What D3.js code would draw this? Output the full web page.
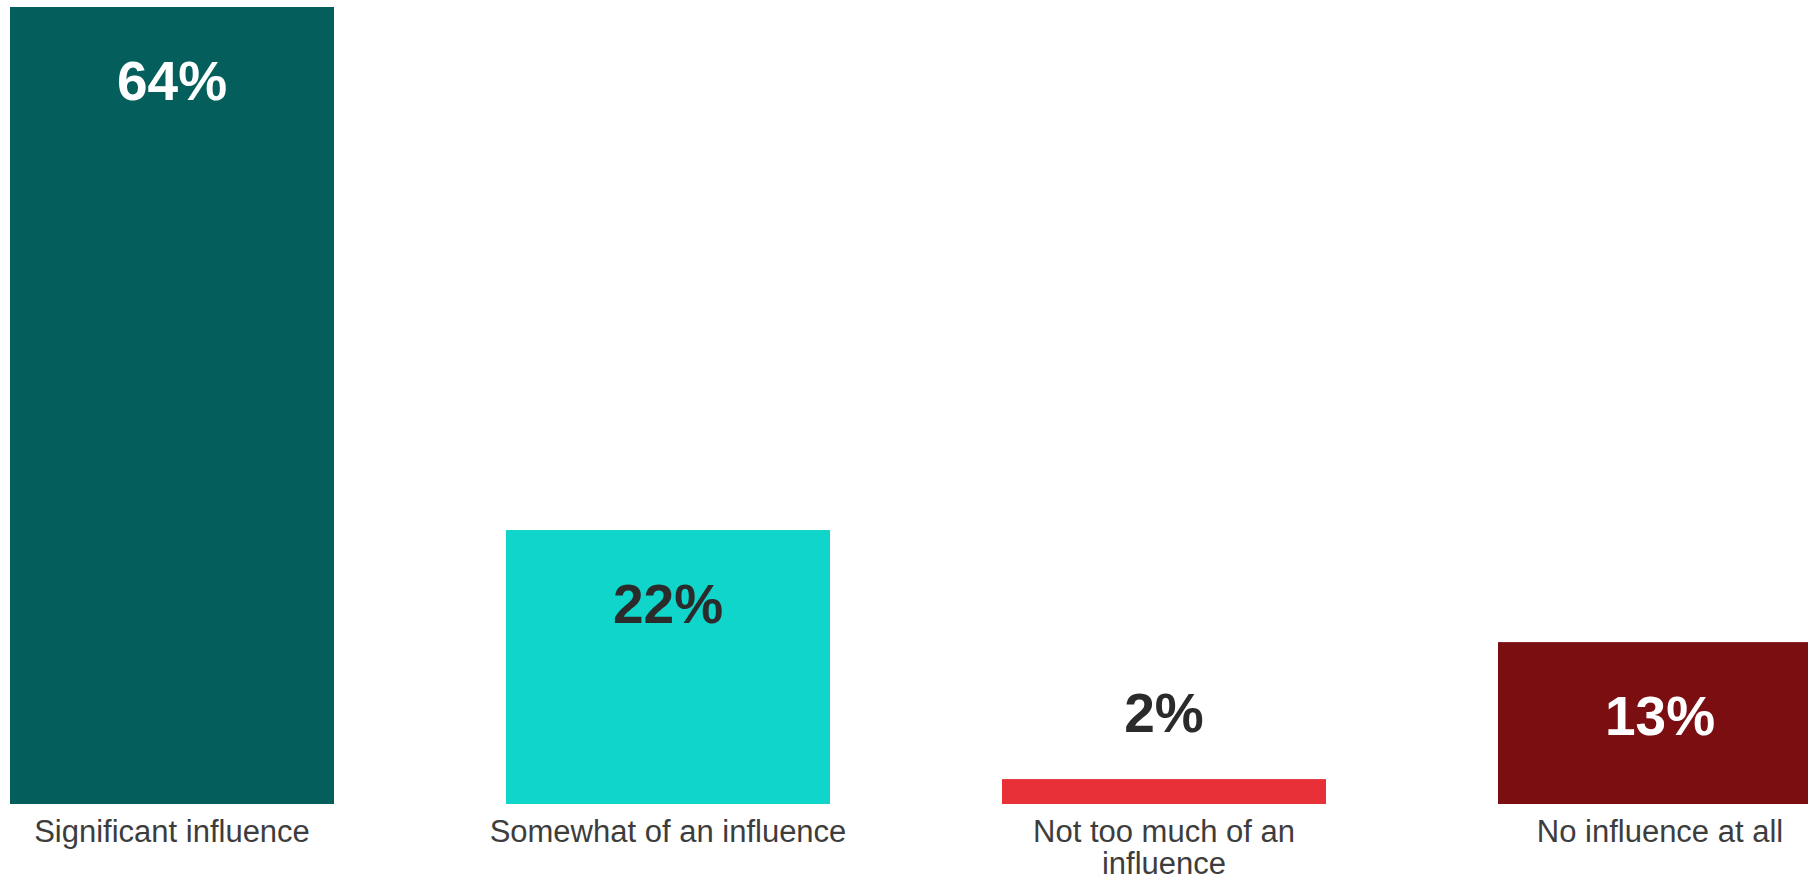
<!DOCTYPE html>
<html>
<head>
<meta charset="utf-8">
<script src="https://cdn.jsdelivr.net/npm/d3@7"></script>
<style>
  html, body { margin: 0; padding: 0; background: #ffffff; overflow: hidden; }
  svg { display: block; }
</style>
</head>
<body>
<svg id="chart" width="1808" height="879"></svg>
<script>
const categories = ["Significant influence", "Somewhat of an influence", "Not too much of an influence", "No influence at all"];
const values = [64, 22, 2, 13];
const valueLabels = ["64%", "22%", "2%", "13%"];
const barColors = ["#045e5c", "#0fd5cb", "#e83039", "#7b0e11"];
const labelColors = ["#ffffff", "#2b2b2b", "#2b2b2b", "#ffffff"];

const svg = d3.select("#chart");
const x = d3.scaleBand()
  .domain(categories)
  .range([10, 10 + 4 * 496 - 172])
  .paddingInner(172 / 496)
  .paddingOuter(0);
const y = d3.scaleLinear().domain([0, 64]).range([804, 7]);

const data = categories.map((c, i) => ({ c, v: values[i], l: valueLabels[i], col: barColors[i], tc: labelColors[i] }));

svg.append("g").selectAll("rect").data(data).join("rect")
  .attr("x", d => x(d.c))
  .attr("y", d => y(d.v))
  .attr("width", x.bandwidth())
  .attr("height", d => y(0) - y(d.v))
  .attr("fill", d => d.col);

svg.append("g").selectAll("text").data(data).join("text")
  .attr("x", d => x(d.c) + x.bandwidth() / 2)
  .attr("y", d => (y(0) - y(d.v)) > 120 ? y(d.v) + 93 : y(d.v) - 47)
  .attr("text-anchor", "middle")
  .attr("font-family", "'Liberation Sans', Arial, sans-serif")
  .attr("font-weight", "bold")
  .attr("font-size", 55)
  .attr("fill", d => d.tc)
  .text(d => d.l);

const axisG = svg.append("g");
const wrapWidth = 385;
data.forEach(d => {
  const t = axisG.append("text")
    .attr("x", x(d.c) + x.bandwidth() / 2)
    .attr("y", 842)
    .attr("text-anchor", "middle")
    .attr("font-family", "'Liberation Sans', Arial, sans-serif")
    .attr("font-size", 31)
    .attr("fill", "#3d3d3d");
  const words = d.c.split(" ");
  let line = [];
  let tspan = t.append("tspan").attr("x", x(d.c) + x.bandwidth() / 2).attr("dy", 0);
  words.forEach(w => {
    line.push(w);
    tspan.text(line.join(" "));
    if (tspan.node().getComputedTextLength() > wrapWidth && line.length > 1) {
      line.pop();
      tspan.text(line.join(" "));
      line = [w];
      tspan = t.append("tspan").attr("x", x(d.c) + x.bandwidth() / 2).attr("dy", 32).text(w);
    }
  });
});
</script>
</body>
</html>
